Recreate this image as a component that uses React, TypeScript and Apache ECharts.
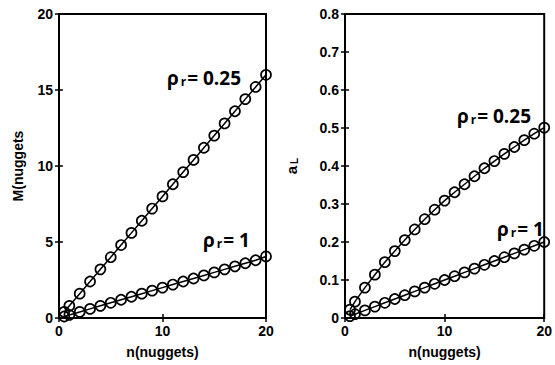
import React, { useEffect, useRef } from "react";
import * as echarts from "echarts";

const nValues = [0.5, 1, 2, 3, 4, 5, 6, 7, 8, 9, 10, 11, 12, 13, 14, 15, 16, 17, 18, 19, 20];
const mRho025 = [0.4, 0.8, 1.6, 2.4, 3.2, 4.0, 4.8, 5.6, 6.4, 7.2, 8.0, 8.8, 9.6, 10.4, 11.2, 12.0, 12.8, 13.6, 14.4, 15.2, 16.0];
const mRho1 = [0.1, 0.2, 0.4, 0.6, 0.8, 1.0, 1.2, 1.4, 1.6, 1.8, 2.0, 2.2, 2.4, 2.6, 2.8, 3.0, 3.2, 3.4, 3.6, 3.8, 4.05];
const aRho025 = [0.022, 0.043, 0.08, 0.114, 0.147, 0.176, 0.205, 0.233, 0.26, 0.285, 0.309, 0.331, 0.352, 0.373, 0.394, 0.413, 0.432, 0.45, 0.468, 0.485, 0.501];
const aRho1 = [0.005, 0.01, 0.02, 0.03, 0.04, 0.05, 0.06, 0.07, 0.08, 0.09, 0.1, 0.11, 0.12, 0.13, 0.14, 0.15, 0.16, 0.17, 0.18, 0.19, 0.2];

const leftYTicks = { min: 0, max: 20, interval: 5 };
const rightYTicks = { min: 0, max: 0.8, interval: 0.1 };
const xTicks = { min: 0, max: 20, interval: 10 };

const FONT = "Liberation Sans, Arial, Helvetica, sans-serif";
const ANN_FONT = "Open Sans, Lato, sans-serif";

const pairs = (xs: number[], ys: number[]) => xs.map((x, i) => [x, ys[i]]);

const tickLabel = { fontFamily: FONT, fontWeight: "bold" as const, fontSize: 14, color: "#000" };
const axisNameStyle = { fontFamily: FONT, fontWeight: "bold" as const, fontSize: 14, color: "#000" };

function xAxes(gridIndex: number) {
  return [
    {
      gridIndex,
      type: "value",
      ...xTicks,
      position: "bottom",
      axisLine: { show: false },
      axisTick: { show: true, inside: true, length: 4, lineStyle: { color: "#000", width: 1.5 } },
      axisLabel: { ...tickLabel, margin: 6 },
      splitLine: { show: false },
      name: "n(nuggets)",
      nameLocation: "middle",
      nameGap: 27,
      nameTextStyle: axisNameStyle,
    },
    {
      gridIndex,
      type: "value",
      ...xTicks,
      position: "top",
      axisLine: { show: false },
      axisTick: { show: true, inside: true, length: 4, lineStyle: { color: "#000", width: 1.5 } },
      axisLabel: { show: false },
      splitLine: { show: false },
    },
  ];
}

function yAxes(gridIndex: number, ticks: any, name: string, rich?: any, nameGap = 33) {
  return [
    {
      gridIndex,
      type: "value",
      ...ticks,
      position: "left",
      axisLine: { show: false },
      axisTick: { show: true, inside: true, length: 4, lineStyle: { color: "#000", width: 1.5 } },
      axisLabel: { ...tickLabel, margin: 6 },
      splitLine: { show: false },
      name,
      nameLocation: "middle",
      nameGap,
      nameTextStyle: rich ? { ...axisNameStyle, rich } : axisNameStyle,
    },
    {
      gridIndex,
      type: "value",
      ...ticks,
      position: "right",
      axisLine: { show: false },
      axisTick: { show: true, inside: true, length: 4, lineStyle: { color: "#000", width: 1.5 } },
      axisLabel: { show: false },
      splitLine: { show: false },
    },
  ];
}

function lineSeries(xAxisIndex: number, yAxisIndex: number, data: number[][]) {
  return {
    type: "line",
    xAxisIndex,
    yAxisIndex,
    data,
    symbol: "circle",
    symbolSize: 10,
    showSymbol: true,
    clip: false,
    lineStyle: { color: "#000", width: 1.5 },
    itemStyle: { color: "rgba(0,0,0,0)", borderColor: "#000", borderWidth: 1.7 },
    emphasis: { disabled: true },
  };
}

function annotation(left: number, cy: number, value: string) {
  return {
    type: "text",
    x: left,
    y: cy,
    style: {
      text: `{a|ρ}{s|r}{a|= ${value}}`,
      textVerticalAlign: "middle",
      rich: {
        a: { fontFamily: ANN_FONT, fontWeight: "bold", fontSize: 19, fill: "#000", color: "#000" },
        s: { fontFamily: ANN_FONT, fontWeight: "bold", fontSize: 12, fill: "#000", color: "#000", verticalAlign: "bottom", padding: [0, 1, 0, 2] },
      },
    },
  };
}

export default function App() {
  const ref = useRef<HTMLDivElement>(null);
  useEffect(() => {
    if (!ref.current) return;
    const chart = echarts.init(ref.current, undefined, { renderer: "svg" });
    chart.setOption({
      animation: false,
      backgroundColor: "#fff",
      grid: [
        { left: 59, top: 14, width: 207, height: 304, show: true, borderColor: "#000", borderWidth: 2, backgroundColor: "transparent" },
        { left: 345, top: 14, width: 206, height: 304, show: true, borderColor: "#000", borderWidth: 2, backgroundColor: "transparent" },
      ],
      xAxis: [...xAxes(0), ...xAxes(1)],
      yAxis: [
        ...yAxes(0, leftYTicks, "M(nuggets", undefined, 34),
        ...yAxes(1, rightYTicks, "{a|a}{s|L}", {
          a: { fontFamily: FONT, fontWeight: "bold", fontSize: 15, color: "#000" },
          s: { fontFamily: FONT, fontWeight: "bold", fontSize: 10, color: "#000", verticalAlign: "bottom", padding: [0, 0, 0, 2] },
        }, 46),
      ],
      series: [
        lineSeries(0, 0, pairs(nValues, mRho025)),
        lineSeries(0, 0, pairs(nValues, mRho1)),
        lineSeries(2, 2, pairs(nValues, aRho025)),
        lineSeries(2, 2, pairs(nValues, aRho1)),
      ],
      graphic: [
        annotation(167, 78, "0.25"),
        annotation(203, 240, "1"),
        annotation(457, 116, "0.25"),
        annotation(497, 229, "1"),
      ],
    });
    return () => chart.dispose();
  }, []);
  return (
    <div
      ref={ref}
      style={{ position: "fixed", left: 0, top: 0, width: 555, height: 365, background: "#fff" }}
    />
  );
}
